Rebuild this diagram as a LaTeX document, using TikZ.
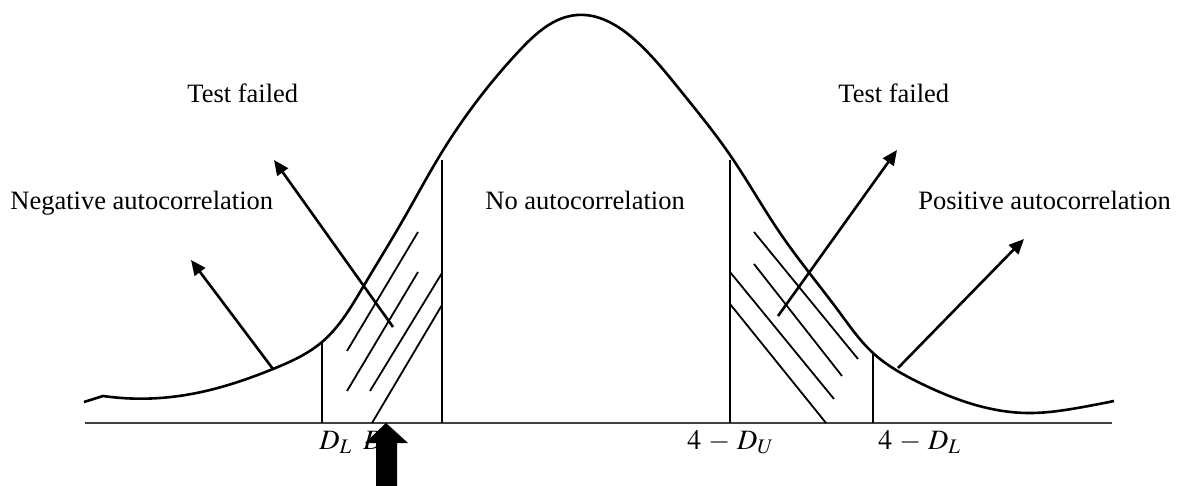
\documentclass[tikz,border=0pt]{standalone}
\usepackage{mathptmx}
\usepackage{fontspec}
\setmainfont{Liberation Serif}
\newcommand{\AxisY}{423}
\newcommand{\LowCut}{322}
\newcommand{\UpCut}{442}
\newcommand{\UpCutR}{730}
\newcommand{\LowCutR}{873}
\usepackage{tikz}
\usetikzlibrary{arrows.meta,hobby}
\tikzset{
 lbl/.style={font=\fontsize{13.25}{15}\selectfont,inner sep=0pt,anchor=base west},
 mlbl/.style={font=\fontsize{14}{16}\selectfont,inner sep=0pt,anchor=base west},
 pointer/.style={line width=1.3pt,-{Triangle[length=7.5pt,width=6.5pt]}},
 hatch/.style={line width=0.9pt},
 cut/.style={line width=0.9pt}
}
\begin{document}
\begin{tikzpicture}[x=0.5pt,y=-0.5pt]
\useasboundingbox (0,0) rectangle (1178,486);
\draw[line width=1.3pt,use Hobby shortcut] (84,402) -- (103,396) .. (160,398) .. (210,390) .. (273,369)
 .. (\LowCut,342) .. (363,287) .. (403,220) .. (\UpCut,152) .. (480,97) .. (520,50) .. (577,15)
 .. (635,40) .. (680,90) .. (\UpCutR,155) .. (780,233) .. (840,313) .. (\LowCutR,353)
 .. (920,383) .. (983,407) .. (1027,413) .. (1083,407) .. (1114,401);
\draw[line width=1pt,black!75] (85,\AxisY) -- (1112,\AxisY);
\draw[cut] (\LowCut,342) -- (\LowCut,\AxisY);
\draw[cut] (\UpCut,160) -- (\UpCut,\AxisY);
\draw[cut] (\UpCutR,160) -- (\UpCutR,\AxisY);
\draw[cut] (\LowCutR,353) -- (\LowCutR,\AxisY);
\draw[hatch] (347,351) -- (418,232);
\draw[hatch] (347,391) -- (418,272);
\draw[hatch] (370,391) -- (\UpCut,273);
\draw[hatch] (372,\AxisY) -- (\UpCut,305);
\draw[hatch] (754,232) -- (858,359);
\draw[hatch] (754,264) -- (842,376);
\draw[hatch] (\UpCutR,272) -- (834,399);
\draw[hatch] (\UpCutR,304) -- (826,\AxisY);
\coordinate (negfoot) at (273,369);
\coordinate (negtip) at (191,260);
\coordinate (lfailfoot) at (393,327);
\coordinate (lfailtip) at (274,160);
\coordinate (rfailfoot) at (778,316);
\coordinate (rfailtip) at (897,150);
\coordinate (posfoot) at (898,368);
\coordinate (postip) at (1024,239);
\draw[pointer] (negfoot) -- (negtip);
\draw[pointer] (lfailfoot) -- (lfailtip);
\draw[pointer] (rfailfoot) -- (rfailtip);
\draw[pointer] (posfoot) -- (postip);
\node[lbl] (lfail) at (187,103) {Test failed};
\node[lbl] (rfail) at (838,103) {Test failed};
\node[lbl] (neg) at (10,210) {Negative autocorrelation};
\node[lbl] (none) at (485,210) {No autocorrelation};
\node[lbl] (pos) at (918,210) {Positive autocorrelation};
\node[mlbl] (dl) at (319,449) {$D_L$};
\node[mlbl] (du) at (363,449) {$D_U$};
\node[mlbl] (fdu) at (687,449) {$4\,-\,D_U$};
\node[mlbl] (fdl) at (878,449) {$4\,-\,D_L$};
\fill (376,486) -- (376,443) -- (365,443) -- (386,\AxisY) -- (408,443) -- (397,443) -- (397,486) -- cycle;
\end{tikzpicture}
\end{document}
